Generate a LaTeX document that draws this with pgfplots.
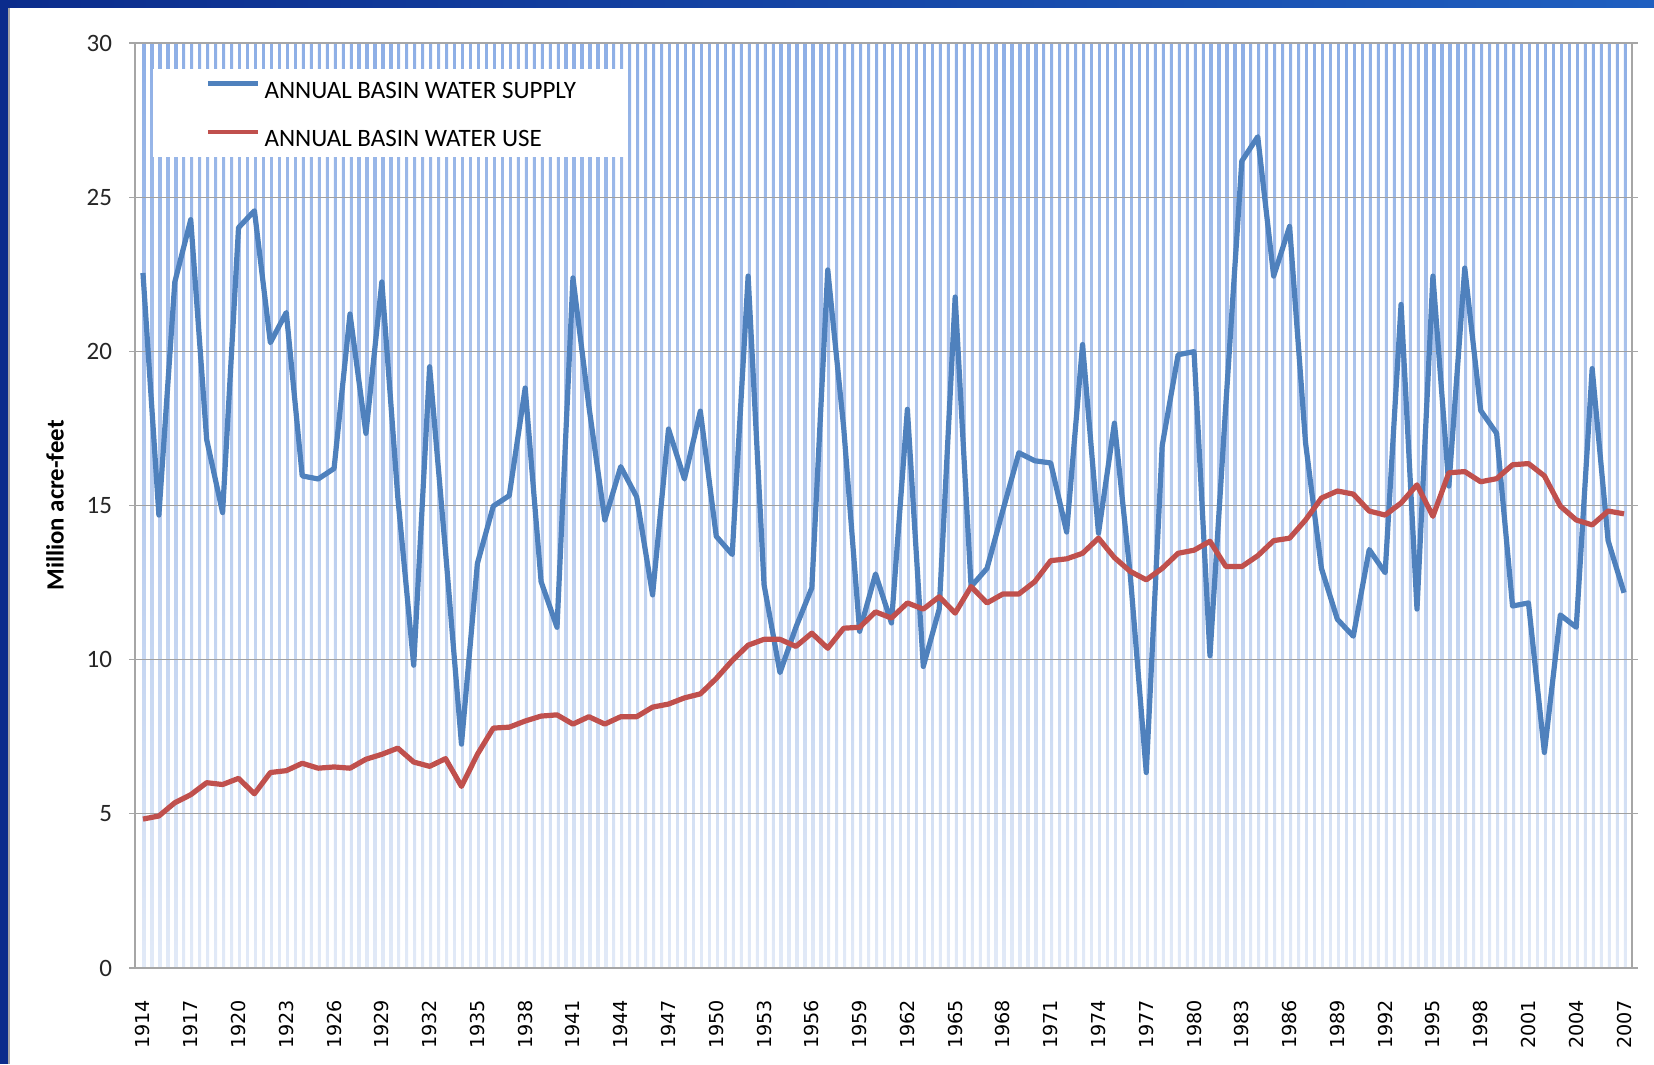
\documentclass[border=0pt]{standalone}
\usepackage{fontspec}
\setmainfont{Carlito}
\newfontfamily\dejavu{DejaVu Sans}
\usepackage{pgfplots}
\pgfplotsset{compat=1.18}
\definecolor{sup}{HTML}{4F81BD}
\definecolor{use}{HTML}{C0504D}
\definecolor{stripetop}{HTML}{8EAFE6}
\definecolor{stripebot}{HTML}{E2EAF7}
\definecolor{navy}{HTML}{0B2C8C}
\definecolor{navyr}{HTML}{1F5FC0}
\definecolor{gridg}{HTML}{A0A0A0}
\definecolor{axg}{HTML}{A6A6A6}
\begin{document}
\begin{tikzpicture}
\begin{axis}[
  set layers,
  at={(67.5pt,48pt)}, anchor=south west,
  scale only axis, width=748.5pt, height=462.5pt,
  xmin=1913.5, xmax=2007.5, ymin=0, ymax=30,
  xtick={1914,1917,...,2007}, ytick={0,5,...,30},
  /pgf/number format/assume math mode=true,
  /pgf/number format/1000 sep={},
  xticklabel style={yshift=-9.5pt, font=\dejavu\fontsize{9.6}{11}\selectfont, rotate=90, anchor=east, text=black},
  yticklabel style={font=\fontsize{12.5}{14}\selectfont, xshift=-5pt, text=black!85},
  xtick style={draw=none},
  ytick style={draw=axg, line width=0.6pt},
  tick align=outside, major tick length=3pt,
  axis line style={draw=axg, line width=0.8pt},
  ymajorgrids, grid style={draw=gridg, line width=0.5pt},
  ylabel={Million acre-feet},
  ylabel style={font=\bfseries\fontsize{12.4}{14}\selectfont, at={(axis description cs:-0.0534,0.5)}, anchor=center},
  legend cell align=left,
  legend image code/.code={\draw[#1, line width=2.4pt] (0pt,4pt) -- (25pt,4pt);},
  legend style={at={(0.04676,0.959)}, anchor=north west, draw=none, fill=none,
    inner sep=0pt, nodes={inner sep=0pt}, row sep=14.15pt, column sep=2.2pt,
    font=\fontsize{12.5}{14}\selectfont},
]
\begin{pgfonlayer}{axis background}
\pgfplotsinvokeforeach{0,...,186}{
  \shade[top color=stripetop, bottom color=stripebot] (axis cs:{1913.985+0.5*#1},0) rectangle (axis cs:{1914.155+0.5*#1},30);
}
\fill[white] (axis cs:1914.66,26.3) rectangle (axis cs:1944.3,29.16);
\end{pgfonlayer}
\addplot[sup, line width=2.6pt, line join=round] coordinates {
(1914,22.54) (1915,14.69) (1916,22.25) (1917,24.27) (1918,17.14) (1919,14.77)
(1920,24.01) (1921,24.56) (1922,20.28) (1923,21.26) (1924,15.96) (1925,15.86)
(1926,16.20) (1927,21.21) (1928,17.34) (1929,22.25) (1930,15.28) (1931,9.82)
(1932,19.50) (1933,13.5) (1934,7.26) (1935,13.12) (1936,14.98) (1937,15.32)
(1938,18.81) (1939,12.53) (1940,11.05) (1941,22.38) (1942,18.22) (1943,14.53)
(1944,16.26) (1945,15.28) (1946,12.10) (1947,17.48) (1948,15.86) (1949,18.06)
(1950,14.00) (1951,13.41) (1952,22.44) (1953,12.43) (1954,9.58) (1955,11.05)
(1956,12.33) (1957,22.64) (1958,17.53) (1959,10.92) (1960,12.78) (1961,11.19)
(1962,18.12) (1963,9.78) (1964,11.64) (1965,21.76) (1966,12.37) (1967,12.96)
(1968,14.85) (1969,16.71) (1970,16.45) (1971,16.38) (1972,14.14) (1973,20.22)
(1974,14.10) (1975,17.67) (1976,12.72) (1977,6.34) (1978,16.94) (1979,19.89)
(1980,19.99) (1981,10.13) (1982,18.3) (1983,26.17) (1984,26.96) (1985,22.44)
(1986,24.05) (1987,17.04) (1988,12.96) (1989,11.31) (1990,10.76) (1991,13.57)
(1992,12.82) (1993,21.52) (1994,11.64) (1995,22.44) (1996,15.63) (1997,22.70)
(1998,18.08) (1999,17.34) (2000,11.74) (2001,11.84) (2002,6.99) (2003,11.45)
(2004,11.05) (2005,19.44) (2006,13.86) (2007,12.17)
};
\addlegendentry{ANNUAL BASIN WATER SUPPLY}
\addplot[use, line width=2.6pt, line join=round] coordinates {
(1914,4.83) (1915,4.93) (1916,5.36) (1917,5.62) (1918,6.01) (1919,5.95)
(1920,6.15) (1921,5.65) (1922,6.34) (1923,6.40) (1924,6.64) (1925,6.48)
(1926,6.52) (1927,6.48) (1928,6.77) (1929,6.93) (1930,7.13) (1931,6.68)
(1932,6.54) (1933,6.79) (1934,5.89) (1935,6.93) (1936,7.78) (1937,7.81)
(1938,8.01) (1939,8.17) (1940,8.21) (1941,7.91) (1942,8.15) (1943,7.91)
(1944,8.15) (1945,8.15) (1946,8.46) (1947,8.56) (1948,8.76) (1949,8.89)
(1950,9.39) (1951,9.97) (1952,10.47) (1953,10.66) (1954,10.66) (1955,10.43)
(1956,10.86) (1957,10.37) (1958,11.02) (1959,11.05) (1960,11.55) (1961,11.35)
(1962,11.84) (1963,11.64) (1964,12.04) (1965,11.51) (1966,12.37) (1967,11.84)
(1968,12.13) (1969,12.13) (1970,12.53) (1971,13.21) (1972,13.27) (1973,13.45)
(1974,13.94) (1975,13.31) (1976,12.86) (1977,12.59) (1978,12.96) (1979,13.45)
(1980,13.55) (1981,13.84) (1982,13.02) (1983,13.02) (1984,13.37) (1985,13.86)
(1986,13.94) (1987,14.53) (1988,15.24) (1989,15.47) (1990,15.37) (1991,14.82)
(1992,14.69) (1993,15.08) (1994,15.67) (1995,14.65) (1996,16.06) (1997,16.10)
(1998,15.77) (1999,15.87) (2000,16.32) (2001,16.36) (2002,15.96) (2003,14.98)
(2004,14.53) (2005,14.37) (2006,14.82) (2007,14.73)
};
\addlegendentry{ANNUAL BASIN WATER USE}
\end{axis}
\fill[navy] (0,0) rectangle (4pt,532pt);
\draw[axg,line width=0.6pt] (4.5pt,0) -- (4.5pt,528pt);
\shade[left color=navy, right color=navyr] (0,528pt) rectangle (827pt,532pt);
\path (0,0) rectangle (827pt,532pt);
\end{tikzpicture}
\end{document}
